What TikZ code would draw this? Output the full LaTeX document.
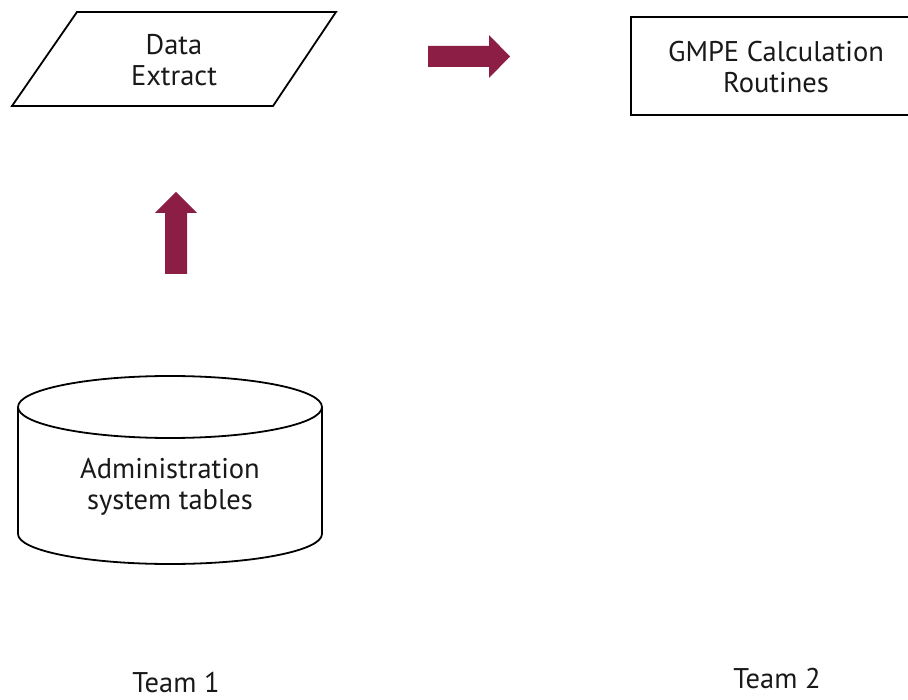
\documentclass[tikz,border=0pt]{standalone}
\usepackage{fontspec}
\setmainfont{PT Sans}
\definecolor{maroon}{RGB}{140,29,68}
\begin{document}
\begin{tikzpicture}[x=1pt,y=-1pt,
  outline/.style={draw=black,line width=1.8pt,line join=miter},
  blockarrow/.style={fill=maroon,draw=none},
  lbl/.style={font=\fontsize{28.5}{31}\selectfont,align=center,inner sep=0pt,text=black!90}]
\useasboundingbox (0,0) rectangle (908,700);
\clip (0,0) rectangle (908,700);
% Data Extract parallelogram
\draw[outline] (77,12) -- (336,12) -- (273,106) -- (12,106) -- cycle;
\node[lbl] (extract) at (174,60) {Data\\Extract};
% GMPE box
\draw[outline] (631,17) rectangle (930,115);
\node[lbl] (gmpe) at (776,67) {GMPE Calculation\\Routines};
% right block arrow
\fill[blockarrow] (428,46) -- (489,46) -- (489,35) -- (510,56.5) -- (489,78) -- (489,67) -- (428,67) -- cycle;
% up block arrow
\fill[blockarrow] (165,274) -- (165,213) -- (155,213) -- (176,192) -- (197,213) -- (187,213) -- (187,274) -- cycle;
% cylinder
\draw[outline,fill=white] (18,407) -- (18,534) arc[start angle=180,end angle=360,x radius=152,y radius=-30] -- (322,407);
\draw[outline] (170,407) ellipse[x radius=152,y radius=31];
\node[lbl] (admin) at (170,487) {Administration\\system tables};
% team labels
\node[lbl] (team1) at (176,683) {Team 1};
\node[lbl] (team2) at (777,679) {Team 2};
\end{tikzpicture}
\end{document}
